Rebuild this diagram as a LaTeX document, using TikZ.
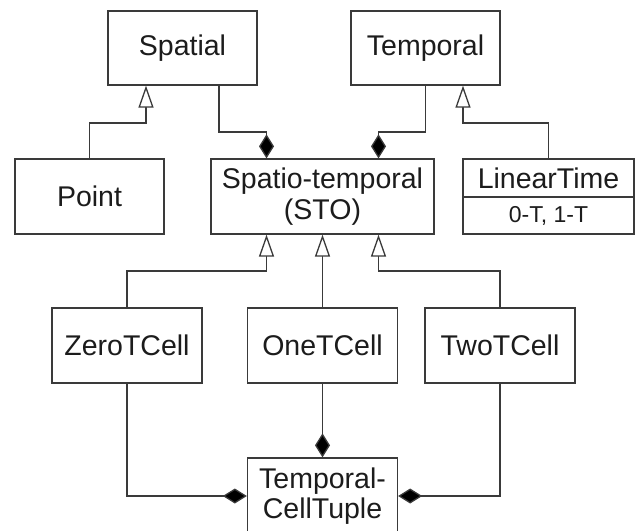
\documentclass[tikz,border=0pt]{standalone}
\usepackage{fontspec}
\setmainfont{Liberation Sans}
\usetikzlibrary{arrows.meta}
\definecolor{edge}{HTML}{3A3A3A}
\definecolor{ink}{HTML}{1C1C1C}
\tikzset{
  cls/.style={draw=edge, line width=1.3pt, rectangle, inner sep=0pt, align=center,
    text=ink, font=\fontsize{28.5}{31}\selectfont, minimum height=75pt},
  attr/.style={cls, font=\fontsize{23}{26}\selectfont},
  gen/.style={draw=edge, line width=1.3pt, -{Triangle[open, length=22pt, width=15pt, fill=white]}},
  comp/.style={draw=edge, line width=1.3pt, -{Diamond[length=24pt, width=15pt, fill=black]}},
}
\begin{document}
\begin{tikzpicture}[x=1pt, y=-1pt]
  \fill[white] (0,0) rectangle (636,530);
  \clip (0,0) rectangle (636,530);

  % classes
  \node[cls, minimum width=149pt, minimum height=74pt] (sp) at (182.5,48) {Spatial};
  \node[cls, minimum width=149pt, minimum height=74pt] (tp) at (425.5,48) {Temporal};
  \node[cls, minimum width=149pt] (pt) at (89.5,196.5) {Point};
  \node[cls, minimum width=223pt] (sto) at (322.5,196.5) {Spatio-temporal\\(STO)};
  \node[cls, minimum width=171pt, minimum height=38pt] (lt) at (548.5,178) {LinearTime};
  \node[attr, minimum width=171pt, minimum height=37pt] (ltb) at (548.5,215.5) {0-T, 1-T};
  \node[cls, minimum width=150pt] (zc) at (127,345.5) {ZeroTCell};
  \node[cls, minimum width=150pt] (oc) at (322.5,345.5) {OneTCell};
  \node[cls, minimum width=150pt] (tc) at (500,345.5) {TwoTCell};
  \node[cls, minimum width=150pt, minimum height=76pt, font=\fontsize{28.5}{30}\selectfont] (tup) at (322.5,496) {Temporal-\\CellTuple};

  % generalisations
  \draw[gen] (pt.north) |- (146,123) -- ([xshift=-36.5pt]sp.south);
  \draw[gen] (lt.north) |- (463,123) -- ([xshift=37.5pt]tp.south);
  \draw[gen] (zc.north) |- (266.5,271) -- ([xshift=-56pt]sto.south);
  \draw[gen] (oc.north) -- (sto.south);
  \draw[gen] (tc.north) |- (378.5,271) -- ([xshift=56pt]sto.south);

  % compositions
  \draw[comp] ([xshift=36.5pt]sp.south) |- (266.5,132) -- ([xshift=-56pt]sto.north);
  \draw[comp] (tp.south) |- (378.5,132) -- ([xshift=56pt]sto.north);
  \draw[comp] (oc.south) -- (tup.north);
  \draw[comp] (zc.south) |- (tup.west);
  \draw[comp] (tc.south) |- (tup.east);
\end{tikzpicture}
\end{document}
